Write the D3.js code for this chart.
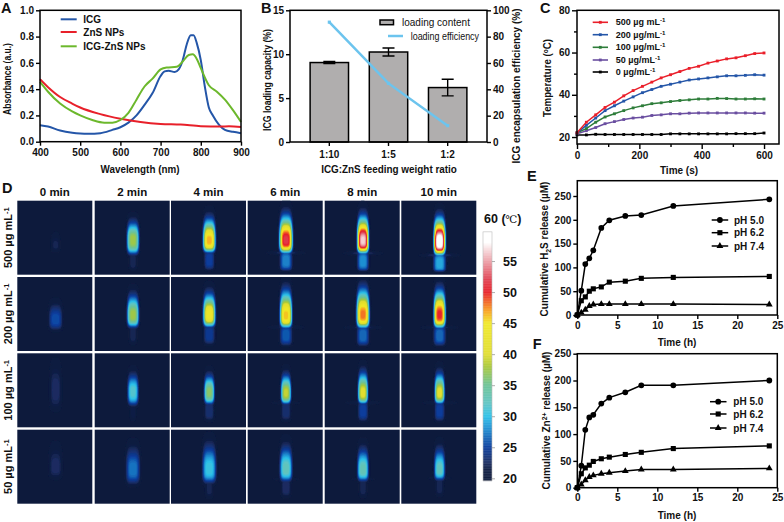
<!DOCTYPE html>
<html><head><meta charset="utf-8">
<script src="https://cdnjs.cloudflare.com/ajax/libs/d3/7.8.5/d3.min.js"></script>
<style>
html,body{margin:0;padding:0;background:#fff}
svg{display:block}
text{font-family:"Liberation Sans",Arial,sans-serif;font-weight:bold;fill:#111}
.tick text{font-size:10px}
.tick line,.domain{stroke:#000;stroke-width:1.4}
</style></head><body><svg id="c" width="784" height="522"></svg>
<script>
// ---- Panel A
const wlICG=[400,420,450,480,500,520,550,580,600,620,640,660,680,700,710,720,735,745,755,765,775,782,790,800,810,820,830,845,860,880,900];
const absICG=[.125,.115,.085,.068,.062,.06,.065,.09,.11,.145,.2,.28,.37,.5,.535,.54,.53,.55,.62,.74,.81,.81,.75,.62,.42,.26,.2,.13,.09,.075,.065];
const wlZnS=[400,420,450,480,500,550,600,650,700,750,800,850,870,900];
const absZnS=[.475,.415,.34,.29,.26,.21,.175,.15,.135,.13,.118,.115,.117,.112];
const wlMix=[400,420,450,480,500,530,560,580,600,620,640,660,680,700,715,740,755,770,780,790,800,820,840,860,880,900];
const absMix=[.455,.38,.29,.23,.2,.165,.145,.145,.165,.22,.32,.42,.48,.55,.565,.57,.61,.66,.665,.63,.56,.43,.38,.32,.24,.15];
// ---- Panel B
const ratios=["1:10","1:5","1:2"];
const loadingContent=[9.05,10.25,6.2];
const loadingErr=[0.12,0.45,0.95];
const loadingEff=[91,44.5,12.4];
// ---- Panel C
const timeC=[0,30,60,90,120,150,180,210,240,270,300,330,360,390,420,450,480,510,540,570,600];
const t500=[22,27,30.5,34,36.5,39.5,42,44,46,48,49.5,51,52.5,53.5,55,56,57,57.5,58.5,59.5,59.8];
const t200=[22,25.5,29,32.5,34.8,37,39,41,42.5,44,45,46,47,47.5,48,48.5,49,49,49.2,49.5,49.3];
const t100=[22,24,27,29.5,31,32.5,33.8,34.8,35.8,36.2,36.8,37.3,37.6,38,38,38.3,38.2,38,38,38.1,38];
const t50=[21.5,23,24.5,26.3,27.3,28.3,29,29.4,30.2,30.5,31,31,31.3,31.4,31.4,31.4,31.4,31.4,31.4,31.3,31.3];
const t0=[21,21,21.3,21.2,21.2,21.2,21.2,21.2,21.2,21.2,21.5,21.5,21.5,21.5,21.5,21.5,21.5,21.6,21.6,21.6,21.9];
// ---- Panels E, F
const timeH=[0,.5,1,1.5,2,3,4,6,8,12,24];
const h2s50=[0,51,107,119,136,183,199,208,210,229,243];
const h2s62=[0,30,38,50,55,59,69,71,77,79,81];
const h2s74=[0,5,11,19,22,23,23,23,23,23,22];
const zn50=[0,41,108,131,136,157,168,178,191,191,200];
const zn62=[0,26,37,42,49,54,57,62,66,73,78];
const zn74=[0,6,14,20,23,26,28,31,34,34,36];
// ---- Panel D: thermal images
const minutes=["0 min","2 min","4 min","6 min","8 min","10 min"];
const doses=["500","200","100","50"];
const peakT=[[22.2,38,47,52,57,61],[26,38,44,46.5,48.5,50.5],[22.9,32,37,39.5,41,41],[22.9,27.5,31,33,33.5,33]];
const spotHalfW=[[3.5,6,6.5,7,6.2,6.3],[5.8,5.8,6.3,6.3,6.7,6.2],[4.5,5,5,5,5,5],[5,6,6.2,5.8,5.3,5]];
const spotUp=[[6,16,22,26,26,26],[10,18,21,26,27,26],[13,13,15,17,20,19],[11,14,18,18,17,17]];
const spotDown=[[6,15.6,13.6,15,15,16],[10,13.5,13.7,13.7,15,15],[17,14,13,12,12,12],[10,14,14,13,12,11]];
const spotCentre=[[43,37,38,37.6,38,39],[40.5,36,36,37,36,36],[33,36,37,38,38,38],[35,37,37,37,38,38]];
const tailT=[[20,22.5,25.5,28,28.5,29.5],[20,22.5,25,26.5,27,27],[20,22,23.5,23.5,25.5,25.5],[20,20,22.3,23,22.5,22.5]];
const tailHalfW=[[0,4,5,6,5.5,6],[0,4,5.5,6,6,6],[0,3,5,5,5,5],[0,0,4,5,4,4]];
const colorbarTicks=[20,25,30,35,40,45,50,55];
const heatStops=[20,21.5,22.5,25,28,30,32,35,38,40,45,47,50,52,55,58,60];
const heatColors=["#0d1a3c","#0f1d44","#1a2c60","#0a3c9c","#1f8fd2","#2cc0e8","#5fc4c4","#6cc296","#a8c83a","#e0dd30","#f0e828","#f9a020","#e8202a","#e04050","#eca0a8","#ffffff","#ffffff"];

const svg=d3.select("#c");
const defs=svg.append("defs");
defs.append("filter").attr("id","soft").attr("x","-5%").attr("y","-5%").attr("width","110%").attr("height","110%")
  .append("feGaussianBlur").attr("stdDeviation",.7);
function lab(x,y,s,size,anchor,rot,weight,fitLen){
  const base=`translate(${x},${y})`+(rot?` rotate(${rot})`:"");
  const t=svg.append("text").attr("font-size",size).attr("text-anchor",anchor||"start").attr("transform",base);
  if(weight)t.style("font-weight",weight);
  (Array.isArray(s)?s:[[s,0]]).forEach(p=>{
    const ts=t.append("tspan").text(p[0]);
    if(p[1]){ts.attr("font-size",size*.68).attr("dy",p[1]);}
    else if(p[2]!==undefined){ts.attr("dy",p[2]);}
  });
  if(fitLen){const w=t.node().getComputedTextLength();t.attr("transform",base+` scale(${fitLen/w},1)`);}
  return t;
}
function frame(x0,x1,y0,y1){
  svg.append("rect").attr("x",x0).attr("y",y1).attr("width",x1-x0).attr("height",y0-y1)
    .attr("fill","none").attr("stroke","#000").attr("stroke-width",1.5);
}
function ax(gen,tx,ty){
  const g=svg.append("g").attr("transform",`translate(${tx},${ty})`).call(gen);
  g.select(".domain").remove();
  return g;
}
function sym(g,type,x,y,size,fill){
  g.append("path").attr("d",d3.symbol().type(type).size(size)()).attr("transform",`translate(${x},${y})`).attr("fill",fill);
}

// ===== A =====
{
 const x=d3.scaleLinear([400,900],[40,241]),y=d3.scaleLinear([0,1],[141.7,10.3]);
 const series=[[wlICG,absICG,"#2456a8","ICG"],[wlZnS,absZnS,"#e8202a","ZnS NPs"],[wlMix,absMix,"#6cb82c","ICG-ZnS NPs"]];
 const ly=[19.3,32,46.3];
 series.forEach((s,i)=>{
  svg.append("path").datum(s[0].map((d,j)=>[d,s[1][j]])).attr("fill","none").attr("stroke",s[2]).attr("stroke-width",2)
   .attr("d",d3.line().x(d=>x(d[0])).y(d=>y(d[1])).curve(d3.curveMonotoneX));
  svg.append("line").attr("x1",60.7).attr("x2",76.7).attr("y1",ly[i]).attr("y2",ly[i]).attr("stroke",s[2]).attr("stroke-width",2);
  lab(83.3,ly[i]+3.5,s[3],10);
 });
 frame(40,241,141.7,10.3);
 ax(d3.axisBottom(x).tickValues([400,500,600,700,800,900]).tickSize(4).tickPadding(3),0,141.7);
 ax(d3.axisLeft(y).tickValues([0,.2,.4,.6,.8,1]).tickFormat(d3.format(".1f")).tickSize(4).tickPadding(2),40,0);
 lab(11,79,"Absorbance (a.u.)",10.5,"middle",-90,null,72);
 lab(140,173,"Wavelength (nm)",10.5,"middle",0,null,79);
}
// ===== B =====
{
 const x=d3.scaleBand(ratios,[290,487]).paddingInner(.351).paddingOuter(.34);
 const y=d3.scaleLinear([0,15],[142,10.3]),y2=d3.scaleLinear([0,100],[142,10.3]);
 svg.selectAll(".bar").data(loadingContent).join("rect").attr("x",(d,i)=>x(ratios[i])).attr("width",x.bandwidth())
  .attr("y",d=>y(d)).attr("height",d=>142-y(d)).attr("fill","#b0aeae").attr("stroke","#000").attr("stroke-width",1.5);
 loadingContent.forEach((d,i)=>{
  const c=x(ratios[i])+x.bandwidth()/2,hi=y(d+loadingErr[i]),lo=y(d-loadingErr[i]);
  const path=d3.path();path.moveTo(c-6,hi);path.lineTo(c+6,hi);path.moveTo(c,hi);path.lineTo(c,lo);path.moveTo(c-6,lo);path.lineTo(c+6,lo);
  svg.append("path").attr("d",path.toString()).attr("stroke","#000").attr("stroke-width",1.4).attr("fill","none");
 });
 svg.append("path").datum(loadingEff).attr("fill","none").attr("stroke","#6cc4ee").attr("stroke-width",2.5)
  .attr("d",d3.line().x((d,i)=>x(ratios[i])+x.bandwidth()/2).y(d=>y2(d)));
 const mk=svg.append("g");
 loadingEff.forEach((d,i)=>sym(mk,d3.symbolSquare,x(ratios[i])+x.bandwidth()/2,y2(d),10,"#6cc4ee"));
 frame(290,487,142,10.3);
 ax(d3.axisBottom(x).tickSize(4).tickPadding(5),0,142);
 ax(d3.axisLeft(y).tickValues([0,5,10,15]).tickSize(4).tickPadding(2),290,0);
 ax(d3.axisRight(y2).tickValues([0,20,40,60,80,100]).tickSize(4).tickPadding(2),487,0);
 svg.append("rect").attr("x",380).attr("y",20).attr("width",13.5).attr("height",4.7).attr("fill","#b0aeae").attr("stroke","#000").attr("stroke-width",1.5);
 svg.append("line").attr("x1",388).attr("x2",403).attr("y1",36).attr("y2",36).attr("stroke","#6cc4ee").attr("stroke-width",2.5);
 lab(402,25.5,"loading content",10,"start",0,"normal",68);
 lab(410.7,39.5,"loading efficiency",10,"start",0,"normal",68.5);
 lab(271,80,"ICG  loading capacity (%)",10.5,"middle",-90,null,102);
 lab(520,86,"ICG encapsulation efficiency (%)",10.5,"middle",-90,null,155);
 lab(389,173,"ICG:ZnS feeding weight ratio",10.5,"middle",0,null,136);
}
// ===== C =====
{
 const x=d3.scaleLinear([0,648],[577,779]),y=d3.scaleLinear([16.7,80],[144,10.3]);
 const series=[[t500,"#ea1f2a","500 µg mL"],[t200,"#2456a8","200 µg/mL"],[t100,"#2e7d3a","100 µg/mL"],[t50,"#6a4ea0","50 µg/mL"],[t0,"#000","0 µg/mL"]];
 const ly=[22.3,34.7,47.3,60,72];
 series.slice().reverse().forEach(s=>{
  const g=svg.append("g");
  g.append("path").datum(s[0]).attr("fill","none").attr("stroke",s[1]).attr("stroke-width",1.5)
   .attr("d",d3.line().x((d,i)=>x(timeC[i])).y(d=>y(d)));
  s[0].forEach((d,i)=>sym(g,d3.symbolSquare,x(timeC[i]),y(d),8,s[1]));
 });
 series.forEach((s,i)=>{
  svg.append("line").attr("x1",592.7).attr("x2",608).attr("y1",ly[i]).attr("y2",ly[i]).attr("stroke",s[1]).attr("stroke-width",1.6);
  sym(svg,d3.symbolSquare,600.3,ly[i],8,s[1]);
  lab(615.7,ly[i]+3,[[s[2],0],["-1",-3]],9);
 });
 frame(577,779,144,10.3);
 ax(d3.axisBottom(x).tickValues([0,200,400,600]).tickSize(5).tickPadding(3),0,144);
 ax(d3.axisBottom(x).tickValues([100,300,500]).tickSize(3).tickFormat(""),0,144);
 ax(d3.axisLeft(y).tickValues([20,40,60,80]).tickSize(5).tickPadding(2),577,0);
 ax(d3.axisLeft(y).tickValues([30,50,70]).tickSize(3).tickFormat(""),577,0);
 lab(551,78,[["Temperature (",0],["o",-3],["C)",0,3]],10.5,"middle",-90,null,78);
 lab(679,174,"Time (s)",10,"middle");
}
// ===== E, F =====
function release(top,y0,y250,s50,s62,s74,ly,lx,lt,ytitle,yTitleX,yTitleY,yLen,xTitleY){
 const x=d3.scaleLinear([0,25],[577.3,777.3]);
 const y=d3.scaleLinear([0,250],[y0,y250]);
 const types=[d3.symbolCircle,d3.symbolSquare,d3.symbolTriangle],sz=[26,26,20],names=["pH 5.0","pH 6.2","pH 7.4"];
 [s50,s62,s74].forEach((s,k)=>{
  const g=svg.append("g");
  g.append("path").datum(s).attr("fill","none").attr("stroke","#000").attr("stroke-width",1.5)
   .attr("d",d3.line().x((d,i)=>x(timeH[i])).y(d=>y(d)));
  s.forEach((d,i)=>sym(g,types[k],x(timeH[i]),y(d),sz[k],"#000"));
  svg.append("line").attr("x1",lx).attr("x2",lx+16.5).attr("y1",ly[k]).attr("y2",ly[k]).attr("stroke","#000").attr("stroke-width",1.5);
  sym(svg,types[k],lx+8.2,ly[k],sz[k],"#000");
  lab(lt,ly[k]+3.5,names[k],10);
 });
 frame(577.3,777.3,y0,top);
 ax(d3.axisBottom(x).tickValues([0,5,10,15,20,25]).tickSize(4).tickPadding(2.5),0,y0);
 ax(d3.axisLeft(y).tickValues(d3.range(0,251,50)).tickSize(4).tickPadding(2),577.3,0);
 lab(yTitleX,yTitleY,ytitle,10.5,"middle",-90,null,yLen);
 lab(677,xTitleY,"Time (h)",10,"middle");
}
release(180.7,315,196,h2s50,h2s62,h2s74,[220,232.7,246],711.7,734,[["Cumulative H",0],["2",2.5],["S release (µM)",0,-2.5]],548,249,135,345.5);
release(353.7,487.7,353.7,zn50,zn62,zn74,[401.7,414,428],710,733.3,[["Cumulative Zn",0],["2+",-3],[" release (µM)",0,3]],550,420.5,138,519);

// ===== D =====
const heat=d3.scaleLinear(heatStops,heatColors).clamp(true);
const colX=[17.3,94.7,171,247.7,324.7,401.3],rowY=[200.7,277,353.3,429.7],PW=75,PH=74;
const thresholds=d3.range(20.5,60.01,.5);
const contours=d3.contours().size([PW+1,PH+1]).thresholds(thresholds);
const geo=d3.geoPath();
rowY.forEach((py,r)=>colX.forEach((px,c)=>{
  const P=peakT[r][c],amp=P-20,k=amp>9?Math.log(amp/5):(amp<4?.35:.6),cy=spotCentre[r][c],cx=37.8;
  const vals=new Float64Array((PW+1)*(PH+1));
  for(let j=0;j<=PH;j++)for(let i=0;i<=PW;i++){
    const dx=Math.abs(i-cx),dy=j-cy;
    const e=Math.pow(dx/spotHalfW[r][c],4)+(dy<0?Math.pow(-dy/spotUp[r][c],2):Math.pow(dy/spotDown[r][c],4));
    let v=20+amp*Math.exp(-k*e);
    if(tailT[r][c]>20&&tailHalfW[r][c]>0){
      const yy=Math.abs(j-(cy+spotDown[r][c]+7))/10;
      const fade=Math.min(1,Math.max(0,(PH-1-j)/5));
      const tv=20+(tailT[r][c]-20)*fade*Math.exp(-Math.pow(dx/tailHalfW[r][c],4)-Math.pow(yy,4));
      v=Math.max(v,tv);
      if(c>=3){ // faint horizontal flare at the foot of the hot spot
        const fl=20+(tailT[r][c]-20)*.4*Math.exp(-Math.pow(dx/15,2)-Math.pow((j-(cy+spotDown[r][c]-1))/2,2));
        v=Math.max(v,fl);
      }
    }
    vals[j*(PW+1)+i]=v;
  }
  const g=svg.append("g").attr("transform",`translate(${px},${py})`);
  g.append("rect").attr("width",PW).attr("height",PH).attr("fill",heat(20));
  const cs=contours(vals).filter(d=>d.coordinates.length);
  g.append("g").attr("filter","url(#soft)").selectAll("path").data(cs).join("path").attr("d",geo).attr("fill",d=>heat(d.value));
}));
minutes.forEach((m,c)=>lab(colX[c]+PW/2,195.5,m,11.5,"middle"));
doses.forEach((d,r)=>lab(11.5,rowY[r]+PH/2,[[d+" µg mL",0],["-1",-3]],11,"middle",-90));
// colour bar
const barY=d3.scaleLinear([20,60],[478.3,230]);
const barTemps=d3.range(19.6,59.7,.1);
svg.append("g").selectAll("rect").data(barTemps).join("rect").attr("x",483).attr("width",9)
  .attr("y",d=>barY(d+.1)).attr("height",d=>barY(d)-barY(d+.1)+.3).attr("fill",d=>heat(d));
svg.append("rect").attr("x",483).attr("y",barY(59.7)).attr("width",9).attr("height",barY(19.6)-barY(59.7)).attr("fill","none").attr("stroke","#bbb").attr("stroke-width",.6);
const barAxis=ax(d3.axisRight(barY).tickValues(colorbarTicks).tickSize(3).tickPadding(8),492,0);
barAxis.selectAll("line").style("stroke","#999").style("stroke-width",.8);
barAxis.selectAll("text").style("font-size","12.5px");
const t60=lab(484,223,"60 (",12.5);
t60.append("tspan").text("℃").style("font-family","'DejaVu Serif','Liberation Serif',serif").style("font-weight","normal").attr("font-size",10.5);
t60.append("tspan").text(")");
// panel letters
[["A",1,13],["B",261,13],["C",540,13],["D",2,193],["E",527,181],["F",532.7,349]].forEach(d=>lab(d[1],d[2],d[0],14.5));
</script></body></html>
